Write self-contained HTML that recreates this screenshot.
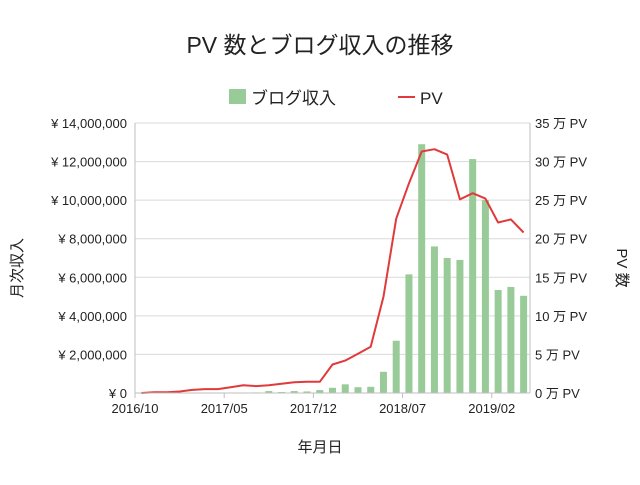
<!DOCTYPE html>
<html><head><meta charset="utf-8"><style>
body{margin:0;background:#fff;font-family:"Liberation Sans","Noto Sans CJK JP",sans-serif;}
svg text{font-family:"Liberation Sans","Noto Sans CJK JP",sans-serif;fill:#222;}
</style></head><body>
<svg id="chart" width="640" height="480">
<text x="320" y="53" font-size="23" text-anchor="middle">PV 数とブログ収入の推移</text>
<g>
<rect x="229" y="89" width="17" height="15" fill="#98cb98"/>
<text x="251" y="104" font-size="17">ブログ収入</text>
<line x1="398" y1="97" x2="415" y2="97" stroke="#e03a3a" stroke-width="2"/>
<text x="420" y="104" font-size="17">PV</text>
</g>
<g id="grid"></g><g id="bars"></g><g id="line"></g><g id="axes"></g>
<text transform="translate(22,268) rotate(-90)" font-size="15" text-anchor="middle">月次収入</text>
<text transform="translate(617,268) rotate(90)" font-size="15" text-anchor="middle">PV 数</text>
<text x="320" y="452" font-size="15" text-anchor="middle">年月日</text>
</svg>
<script>
const income=[0,0,0,0,0,0,0,0.02,0.02,0.03,0.1,0.05,0.1,0.08,0.15,0.27,0.45,0.3,0.32,1.1,2.71,6.15,12.9,7.6,7.0,6.9,12.13,10.0,5.34,5.5,5.04];
const pv=[0,0.1,0.1,0.2,0.4,0.5,0.5,0.75,1.0,0.9,1.0,1.2,1.4,1.45,1.45,3.7,4.2,5.1,6.0,12.5,22.6,27.2,31.3,31.6,30.9,25.1,25.9,25.2,22.1,22.5,20.8];
const xLabels=["2016/10","2017/05","2017/12","2018/07","2019/02"];
const xLabelIdx=[0,7,14,21,28];
const leftTicks=["¥ 0","¥ 2,000,000","¥ 4,000,000","¥ 6,000,000","¥ 8,000,000","¥ 10,000,000","¥ 12,000,000","¥ 14,000,000"];
const rightTicks=["0 万 PV","5 万 PV","10 万 PV","15 万 PV","20 万 PV","25 万 PV","30 万 PV","35 万 PV"];
const ns="http://www.w3.org/2000/svg";
const X0=135,X1=530,Y0=393,Y1=123,n=income.length,bw=(X1-X0)/n;
const yL=v=>Y0-(v/14)*(Y0-Y1), yR=v=>Y0-(v/35)*(Y0-Y1), xc=i=>X0+(i+0.5)*bw, xb=i=>X0+i*bw;
function mk(t,a,p){const e=document.createElementNS(ns,t);for(const k in a)e.setAttribute(k,a[k]);document.getElementById(p).appendChild(e);return e;}
for(let k=0;k<leftTicks.length;k++){const y=yL(k*2);
 const g=mk('line',{x1:X0,x2:X1,y1:y,y2:y,stroke:'#d9d9d9'},'grid');
 
 const t=mk('text',{x:127,y:y+5,'font-size':13,'text-anchor':'end'},'axes');t.textContent=leftTicks[k];
 
 const r=mk('text',{x:535,y:y+5,'font-size':13},'axes');r.textContent=rightTicks[k];
 }
for(let i=0;i<n;i++){if(income[i]<=0)continue;const y=yL(income[i]);
 const b=mk('rect',{x:xc(i)-3.5,y:y,width:7,height:Y0-y,fill:'#98cb98'},'bars');
 }
const pts=pv.map((v,i)=>xc(i).toFixed(1)+','+yR(v).toFixed(1)).join(' ');
const pl=mk('polyline',{points:pts,fill:'none',stroke:'#e03a3a','stroke-width':2,'stroke-linejoin':'round'},'line');

[[X0,X0,Y1,Y0],[X1,X1,Y1,Y0],[X0,X1,Y0,Y0]].forEach(a=>{const l=mk('line',{x1:a[0],x2:a[1],y1:a[2],y2:a[3],stroke:'#bfbfbf'},'axes');
 });
xLabels.forEach((s,j)=>{const x=xb(xLabelIdx[j]);
 const tk=mk('line',{x1:x,x2:x,y1:Y0,y2:Y0+5,stroke:'#bfbfbf'},'axes');
 
 const t=mk('text',{x:x,y:413,'font-size':13,'text-anchor':'middle'},'axes');t.textContent=s;
 });
</script>
</body></html>
